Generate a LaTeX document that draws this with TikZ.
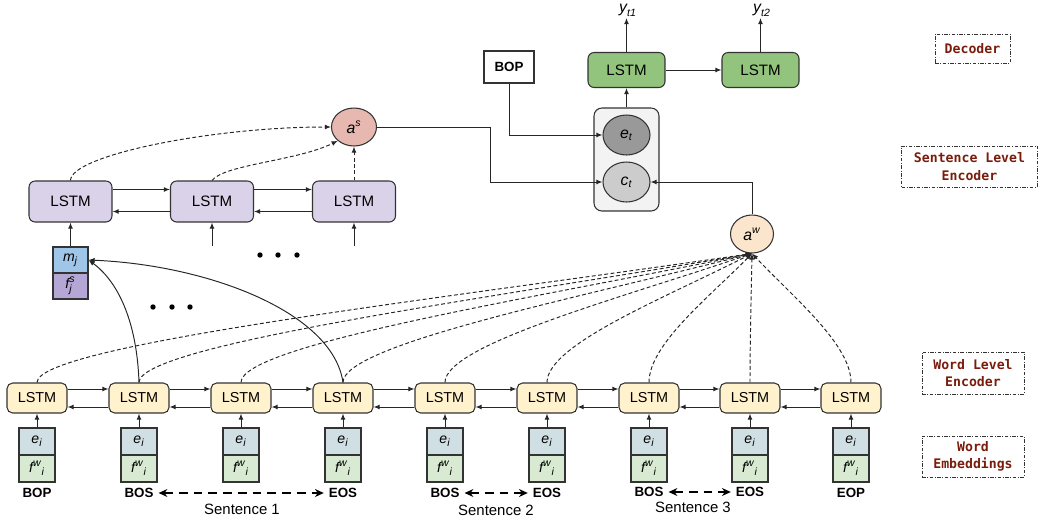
\documentclass[tikz,border=0pt]{standalone}
\usepackage{fontspec}
\usepackage{amsmath}
\setmainfont{Liberation Sans}
\newfontfamily\secmono{DejaVu Sans Mono}
\usetikzlibrary{arrows.meta,calc,shapes.geometric}

\definecolor{edgegray}{HTML}{333333}
\definecolor{wordfill}{HTML}{FFF2CC}
\definecolor{efill}{HTML}{D0DFE4}
\definecolor{ffill}{HTML}{D9EAD3}
\definecolor{sentfill}{HTML}{D9D2E9}
\definecolor{mfill}{HTML}{9FC5E8}
\definecolor{fsfill}{HTML}{B4A7D6}
\definecolor{asfill}{HTML}{E6B8AF}
\definecolor{awfill}{HTML}{FCE5CD}
\definecolor{decfill}{HTML}{93C47D}
\definecolor{grpfill}{HTML}{F3F3F3}
\definecolor{etfill}{HTML}{999999}
\definecolor{ctfill}{HTML}{CCCCCC}
\definecolor{secred}{HTML}{7A1C0C}

\newcommand{\vi}[1]{\textit{#1}}

\begin{document}
\begin{tikzpicture}[x=0.02cm,y=-0.02cm,
  box/.style={draw=edgegray, line width=0.6pt, inner sep=0pt},
  wlstm/.style={box, fill=wordfill, rounded corners=3.2pt, minimum width=1.2cm, minimum height=0.6cm, font=\fontsize{8.2}{9}\selectfont},
  slstm/.style={box, fill=sentfill, rounded corners=3.5pt, minimum width=1.66cm, minimum height=0.82cm, font=\fontsize{8.6}{10}\selectfont},
  glstm/.style={box, fill=decfill, rounded corners=3.5pt, minimum width=1.54cm, minimum height=0.7cm, font=\fontsize{8.6}{10}\selectfont},
  ebox/.style={box, fill=efill, minimum width=0.72cm, minimum height=0.54cm, font=\fontsize{8}{9}\selectfont},
  fbox/.style={box, fill=ffill, minimum width=0.72cm, minimum height=0.54cm, font=\fontsize{8}{9}\selectfont},
  vbox/.style={box, minimum width=0.7cm, minimum height=0.52cm, font=\fontsize{8}{9}\selectfont},
  attn/.style={box, ellipse, minimum width=0.9cm, minimum height=0.76cm, font=\fontsize{9}{10}\selectfont},
  tok/.style={inner sep=1pt, font=\bfseries\fontsize{7.6}{9}\selectfont},
  sent/.style={inner sep=1pt, font=\fontsize{8.5}{10}\selectfont},
  section/.style={draw=edgegray, line width=0.45pt, dash pattern=on 2pt off 0.9pt on 0.5pt off 0.9pt,
    align=center, text=secred, font=\secmono\bfseries\fontsize{7.5}{10}\selectfont, inner sep=0pt},
  arr/.style={-{Latex[length=3.5pt,width=2.8pt]}, line width=0.55pt, draw=black!85},
  darr/.style={arr, dash pattern=on 2.2pt off 1.4pt},
  spanarr/.style={{Stealth[length=5pt,width=4.5pt,inset=1.6pt]}-{Stealth[length=5pt,width=4.5pt,inset=1.6pt]}, line width=0.8pt, dash pattern=on 5pt off 3.4pt}
]
\useasboundingbox (0,0) rectangle (1039,525);

% ---------------- word level encoder ----------------
\foreach \i/\x in {1/37,2/139,3/241,4/343,5/445,6/547,7/649,8/750,9/851} {
  \node[wlstm] (w\i) at (\x,398) {LSTM};
  \node[ebox] (e\i) at (\x,441.5) {$\vi{e}_{\vi{i}}$};
  \node[fbox] (f\i) at (\x,468.5) {$\vi{f}^{\vi{w}}{}_{\vi{i}}$};
  \draw[arr] (e\i.north) -- (w\i.south);
}
\foreach \i in {1,...,8} {
  \pgfmathtruncatemacro{\j}{\i+1}
  \draw[arr] ($(w\i.east)+(0,-9)$) -- ($(w\j.west)+(0,-9)$);
  \draw[arr] ($(w\j.west)+(0,9)$) -- ($(w\i.east)+(0,9)$);
}

% tokens under the embeddings
\node[tok] (t1) at (37,493) {BOP};
\node[tok] (t2) at (139,493) {BOS};
\node[tok] (t4) at (343,493) {EOS};
\node[tok] (t5) at (445,493) {BOS};
\node[tok] (t6) at (547,493) {EOS};
\node[tok] (t7) at (649,492) {BOS};
\node[tok] (t8) at (750,492) {EOS};
\node[tok] (t9) at (851,493) {EOP};
\draw[spanarr] ($(t2.east)+(3,0)$) -- ($(t4.west)+(-3,0)$);
\draw[spanarr] ($(t5.east)+(3,0)$) -- ($(t6.west)+(-3,0)$);
\draw[spanarr] ($(t7.east)+(3,0)$) -- ($(t8.west)+(-3,0)$);
\node[sent] (sn1) at (242,509) {Sentence 1};
\node[sent] (sn2) at (496,510) {Sentence 2};
\node[sent] (sn3) at (693,507) {Sentence 3};

% ---------------- word attention ----------------
\node[attn, fill=awfill, minimum width=0.86cm, minimum height=0.76cm] (aw) at (752,234) {$\vi{a}^{\vi{w}}$};
\foreach \i/\x in {1/37,2/139,3/241,4/343,5/445,6/547,7/649,8/750,9/851} {
  \pgfmathsetmacro{\dx}{-0.42*(752-\x)}
  \draw[darr] (w\i.north) .. controls +(0,-38) and +(\dx,44) .. (aw.south);
}

% ---------------- sentence level encoder ----------------
\node[slstm] (s1) at (70.5,201.5) {LSTM};
\node[slstm] (s2) at (212,201.5) {LSTM};
\node[slstm] (s3) at (354,201.5) {LSTM};
\foreach \a/\b in {s1/s2,s2/s3} {
  \draw[arr] ($(\a.east)+(0,-12)$) -- ($(\b.west)+(0,-12)$);
  \draw[arr] ($(\b.west)+(0,10)$) -- ($(\a.east)+(0,10)$);
}
\node[vbox, fill=mfill] (mj) at (70.5,260) {$\vi{m}_{\vi{j}}$};
\node[vbox, fill=fsfill] (fs) at (70.5,286) {$\vi{f}^{\vi{s}}_{\vi{j}}$};
\draw[arr] (mj.north) -- (s1.south);
\coordinate (in2) at (212,246);
\coordinate (in3) at (354,246);
\draw[arr] (in2) -- (s2.south);
\draw[arr] (in3) -- (s3.south);

% sentence representations built from the word states
\draw[arr] (w2.north) .. controls +(-2,-60) and +(30,22) .. (mj.east);
\draw[arr] (w4.north) .. controls +(-10,-70) and +(120,5) .. (mj.east);

% ellipsis dots
\foreach \x in {260,278,297} \fill (\x,255) circle (2.7);
\foreach \x in {153,172,190} \fill (\x,307) circle (2.7);

% ---------------- sentence attention ----------------
\node[attn, fill=asfill] (as) at (354,127) {$\vi{a}^{\vi{s}}$};
\draw[darr] (s1.north) .. controls +(0,-25) and +(-120,0) .. (as.west);
\draw[darr] (s2.north) .. controls +(12,-16) and +(-40,20) .. (as.south west);
\draw[darr] (s3.north) -- (as.south);

% ---------------- decoder ----------------
\node[box, fill=grpfill, rounded corners=4.5pt, minimum width=1.3cm, minimum height=2.06cm] (grp) at (626.5,159.5) {};
\node[attn, fill=etfill, minimum width=0.94cm, minimum height=0.8cm] (et) at (626.5,135) {$\vi{e}_{\vi{t}}$};
\node[attn, fill=ctfill, minimum width=0.94cm, minimum height=0.8cm] (ct) at (626.5,182) {$\vi{c}_{\vi{t}}$};
\node[box, minimum width=1.0cm, minimum height=0.64cm, font=\bfseries\fontsize{7.6}{9}\selectfont] (bop) at (509,67) {BOP};
\draw[arr] (bop.south) |- (et.west);
\coordinate (bend) at (490,150);
\draw[arr] (as.east) -- (as.east -| bend) |- (ct.west);
\draw[arr] (aw.north) |- (ct.east);

\node[glstm] (g1) at (626.5,70) {LSTM};
\node[glstm] (g2) at (760.5,70) {LSTM};
\draw[arr] (grp.north) -- (g1.south);
\draw[arr] (g1.east) -- (g2.west);
\node[inner sep=0.5pt, anchor=south, font=\fontsize{9}{10}\selectfont] (y1) at (628,18) {$\vi{y}_{\vi{t1}}$};
\node[inner sep=0.5pt, anchor=south, font=\fontsize{9}{10}\selectfont] (y2) at (762,18) {$\vi{y}_{\vi{t2}}$};
\draw[arr] (g1.north) -- (g1.north |- y1.south);
\draw[arr] (g2.north) -- (g2.north |- y2.south);

% ---------------- section captions ----------------
\node[section, minimum width=1.5cm, minimum height=0.58cm] (capdec) at (972.5,48.5) {Decoder};
\node[section, minimum width=2.72cm, minimum height=0.82cm] (capsent) at (969.5,166.5) {Sentence Level\\Encoder};
\node[section, minimum width=2.04cm, minimum height=0.84cm] (capword) at (973,373) {Word Level\\Encoder};
\node[section, minimum width=2.04cm, minimum height=0.82cm] (capemb) at (973,456.5) {Word\\Embeddings};
\end{tikzpicture}
\end{document}
